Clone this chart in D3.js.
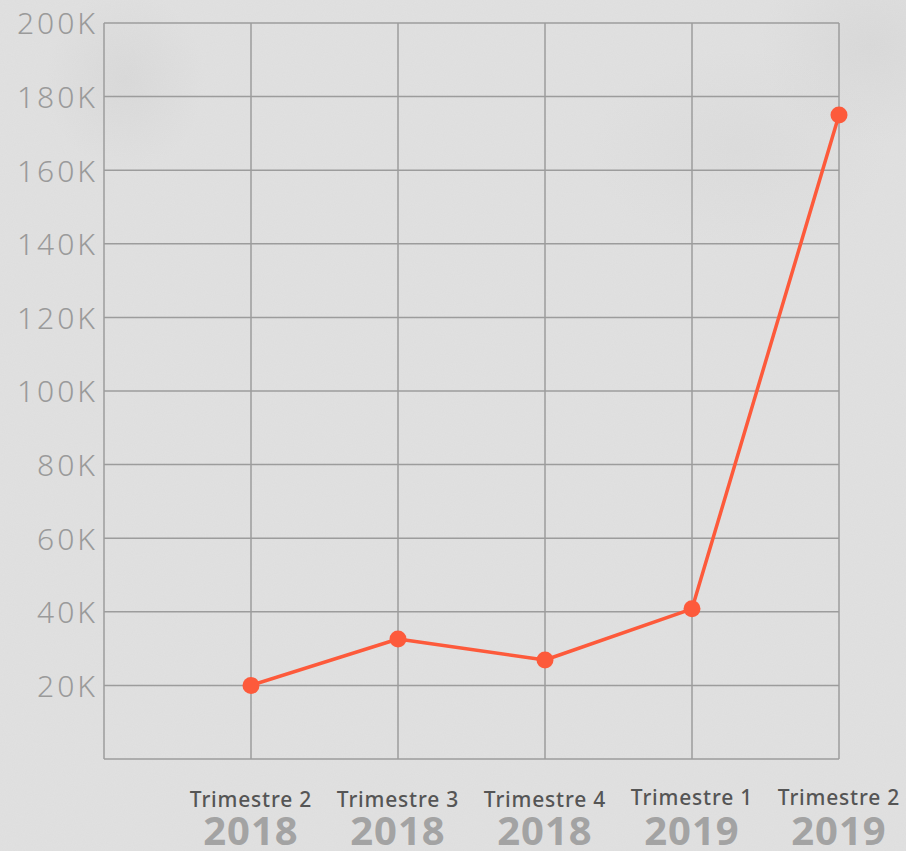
<!DOCTYPE html>
<html><head><meta charset="utf-8">
<script src="https://cdn.jsdelivr.net/npm/d3@7"></script>
<style>
html,body{margin:0;padding:0;background:#e0e0e0;}
svg{display:block;}
</style></head>
<body><svg id="c" width="906" height="851"></svg>
<script>
const quarters = ["Trimestre 2","Trimestre 3","Trimestre 4","Trimestre 1","Trimestre 2"];
const years = ["2018","2018","2018","2019","2019"];
const values = [20000, 32600, 26900, 40800, 175000];
const yTicks = [20000,40000,60000,80000,100000,120000,140000,160000,180000,200000];

const W=906,H=851;
const m={left:104,right:67,top:23,bottom:92};
const svg=d3.select("#c");
const defs=svg.append("defs");
const f=defs.append("filter").attr("id","noise").attr("x",0).attr("y",0).attr("width","100%").attr("height","100%");
f.append("feTurbulence").attr("type","fractalNoise").attr("baseFrequency",0.9).attr("numOctaves",2).attr("seed",3).attr("result","t");
f.append("feColorMatrix").attr("in","t").attr("type","matrix")
 .attr("values","0 0 0 0 0.5  0 0 0 0 0.5  0 0 0 0 0.5  0 0 0 0.10 0");
const rg=(id,op)=>{const g=defs.append("radialGradient").attr("id",id);
 g.append("stop").attr("offset","0").attr("stop-color","#9a9a9a").attr("stop-opacity",op);
 g.append("stop").attr("offset","1").attr("stop-color","#9a9a9a").attr("stop-opacity",0);};
rg("s1",0.10);rg("s2",0.10);rg("s3",0.06);
svg.append("rect").attr("width",W).attr("height",H).attr("fill","#e1e1e1");
svg.append("ellipse").attr("cx",125).attr("cy",80).attr("rx",80).attr("ry",90).attr("fill","url(#s1)");
svg.append("ellipse").attr("cx",870).attr("cy",45).attr("rx",110).attr("ry",100).attr("fill","url(#s2)");
svg.append("ellipse").attr("cx",740).attr("cy",150).attr("rx",150).attr("ry",100).attr("fill","url(#s3)");
svg.append("rect").attr("width",W).attr("height",H).attr("filter","url(#noise)");

const x=d3.scaleLinear().domain([0,5]).range([m.left,W-m.right]);
const y=d3.scaleLinear().domain([0,200000]).range([H-m.bottom,m.top]);

const grid=svg.append("g");
grid.selectAll("line.h").data([0].concat(yTicks)).join("line")
 .attr("x1",x(0)).attr("x2",x(5)).attr("y1",d=>y(d)).attr("y2",d=>y(d))
 .attr("stroke","#9c9c9c").attr("stroke-width",1.5);
grid.selectAll("line.v").data(d3.range(0,6)).join("line")
 .attr("x1",d=>x(d)).attr("x2",d=>x(d)).attr("y1",y(0)).attr("y2",y(200000))
 .attr("stroke","#9c9c9c").attr("stroke-width",1.5);

const ya=svg.append("g").attr("transform",`translate(${m.left},0)`)
 .call(d3.axisLeft(y).tickValues(yTicks).tickSize(0).tickPadding(6).tickFormat(d=>(d/1000)+"K"));
ya.select(".domain").remove();
ya.selectAll("text").attr("font-family","'Noto Sans',sans-serif").attr("font-weight",300)
 .attr("font-size",30).attr("fill","#9a9a9a").attr("letter-spacing",3).attr("dy","0.36em");

const xl=svg.append("g");
xl.selectAll("text.q").data(quarters).join("text")
 .attr("x",(d,i)=>x(i+1)).attr("y",(d,i)=>years[i]==="2019"?805:807)
 .attr("text-anchor","middle").attr("font-family","'Noto Sans',sans-serif").attr("font-weight",500)
 .attr("font-size",21).attr("fill","#555").attr("letter-spacing",0.8).text(d=>d);
xl.selectAll("text.yr").data(years).join("text")
 .attr("x",(d,i)=>x(i+1)).attr("y",845)
 .attr("text-anchor","middle").attr("font-family","'Noto Sans',sans-serif").attr("font-weight",700)
 .attr("font-size",40).attr("fill","#a3a3a3").attr("letter-spacing",1).text(d=>d);

const line=d3.line().x((d,i)=>x(i+1)).y(d=>y(d));
svg.append("path").datum(values).attr("d",line).attr("fill","none")
 .attr("stroke","#fd5a3b").attr("stroke-width",3.5).attr("stroke-linejoin","round");
svg.selectAll("circle.p").data(values).join("circle")
 .attr("cx",(d,i)=>x(i+1)).attr("cy",d=>y(d)).attr("r",8.5).attr("fill","#fd5a3b");
</script></body></html>
